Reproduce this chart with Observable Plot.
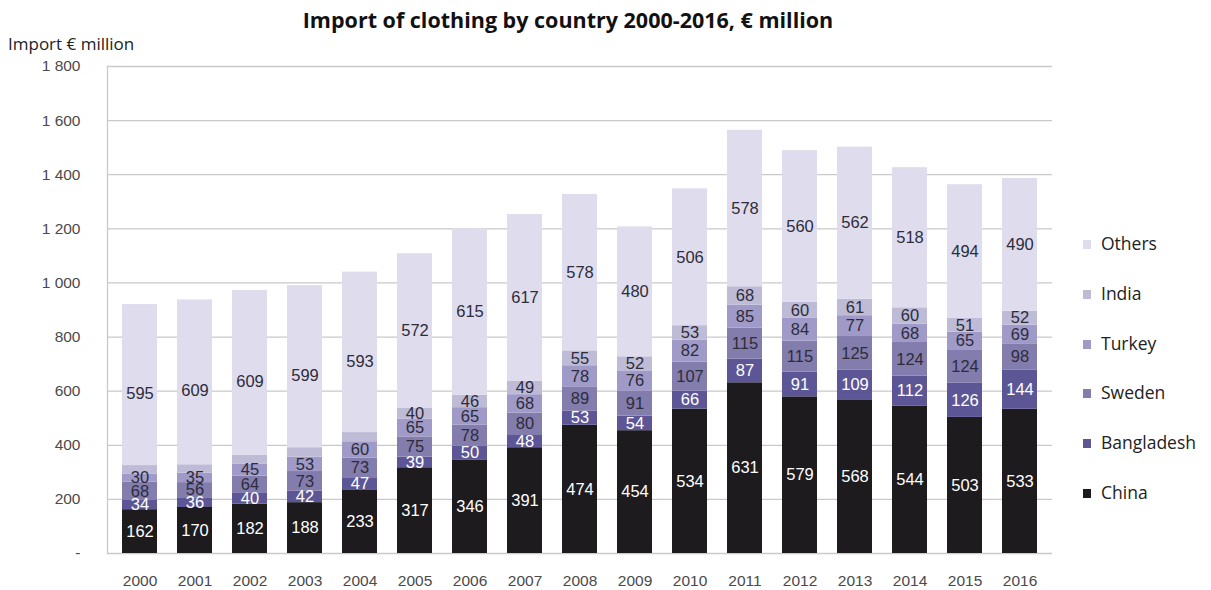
<!DOCTYPE html>
<html>
<head>
<meta charset="utf-8">
<script src="https://cdn.jsdelivr.net/npm/d3@7"></script>
<script src="https://cdn.jsdelivr.net/npm/@observablehq/plot@0.6"></script>
<style>
  html, body { margin: 0; padding: 0; background: #fff; }
  #wrap { position: relative; width: 1211px; height: 590px; overflow: hidden; }
  #title { position: absolute; left: 0; width: 1136px; top: 5px; text-align: center;
    font-family: "Open Sans", Lato, sans-serif; font-weight: bold; font-size: 21.5px; color: #111; }
  #ylab { position: absolute; left: 8px; top: 32px; font-family: "Open Sans", Lato, sans-serif;
    font-size: 17px; color: #222; }
  #legend { position: absolute; left: 1083px; top: 231px; font-family: "Open Sans", Lato, sans-serif;
    font-size: 17.5px; color: #222; }
  .li { height: 49.8px; display: flex; align-items: flex-start; }
  .sw { width: 8px; height: 9px; margin-right: 10px; margin-top: 9px; }
  #chart { position: absolute; left: 0; top: 0; }
</style>
</head>
<body>
<div id="wrap">
  <div id="chart"></div>
  <div id="title">Import of clothing by country 2000-2016, € million</div>
  <div id="ylab">Import € million</div>
  <div id="legend"></div>
</div>
<script>
const years = [2000,2001,2002,2003,2004,2005,2006,2007,2008,2009,2010,2011,2012,2013,2014,2015,2016];
const countries = ["China","Bangladesh","Sweden","Turkey","India","Others"];
const colors = ["#1d1b1e","#5d5696","#837dae","#9f9ac8","#bebbd7","#dedced"];
const china      = [162,170,182,188,233,317,346,391,474,454,534,631,579,568,544,503,533];
const bangladesh = [34,36,40,42,47,39,50,48,53,54,66,87,91,109,112,126,144];
const sweden     = [68,56,64,73,73,75,78,80,89,91,107,115,115,125,124,124,98];
const turkey     = [30,35,45,53,60,65,65,68,78,76,82,85,84,77,68,65,69];
const india      = [31,31,32,35,34,40,46,49,55,52,53,68,60,61,60,51,52];
const others     = [595,609,609,599,593,572,615,617,578,480,506,578,560,562,518,494,490];
const unlabelledIndiaYears = [2000,2001,2002,2003,2004];
const yTicks = [0,200,400,600,800,1000,1200,1400,1600,1800];

const series = {China: china, Bangladesh: bangladesh, Sweden: sweden, Turkey: turkey, India: india, Others: others};
const data = [];
countries.forEach(c => years.forEach((y, i) => data.push({year: y, country: c, value: series[c][i]})));

const fmt = d3.formatLocale({decimal: ".", thousands: " ", grouping: [3], currency: ["", ""]}).format(",");
const lightText = ["China", "Bangladesh"];
const numFont = "Liberation Sans, Arial, sans-serif";

const chart = Plot.plot({
  width: 1211,
  height: 590,
  marginTop: 66,
  marginBottom: 37,
  marginLeft: 107,
  marginRight: 159,
  style: {fontFamily: numFont, fontSize: "15.5px", color: "#4a4a4a", background: "transparent"},
  x: {type: "band", domain: years, paddingInner: 0.37, paddingOuter: 0.18, label: null, tickSize: 0, tickPadding: 21, tickFormat: d => String(d)},
  y: {domain: [0, 1800], ticks: yTicks, label: null, tickSize: 0, tickPadding: 27, tickFormat: d => d === 0 ? "-" : fmt(d)},
  color: {domain: countries, range: colors},
  marks: [
    Plot.gridY(yTicks, {stroke: "#c9c9c9", strokeOpacity: 1, strokeWidth: 1.3}),
    Plot.frame({anchor: "left", stroke: "#c9c9c9", strokeWidth: 1.3}),
    Plot.barY(data, {x: "year", y: "value", fill: "country", order: countries}),
    Plot.text(data.filter(d => !(d.country === "India" && unlabelledIndiaYears.includes(d.year))),
      Plot.stackY({x: "year", y: "value", z: "country", order: countries, text: d => String(d.value),
        fill: d => lightText.includes(d.country) ? "#ffffff" : "#2e2c3a",
        fontSize: 16.5, fontFamily: numFont}))
  ]
});
document.getElementById("chart").appendChild(chart);

const legend = document.getElementById("legend");
[...countries].reverse().forEach(c => {
  const row = document.createElement("div");
  row.className = "li";
  const sw = document.createElement("div");
  sw.className = "sw";
  sw.style.background = colors[countries.indexOf(c)];
  const t = document.createElement("span");
  t.textContent = c;
  row.appendChild(sw); row.appendChild(t);
  legend.appendChild(row);
});
</script>
</body>
</html>
